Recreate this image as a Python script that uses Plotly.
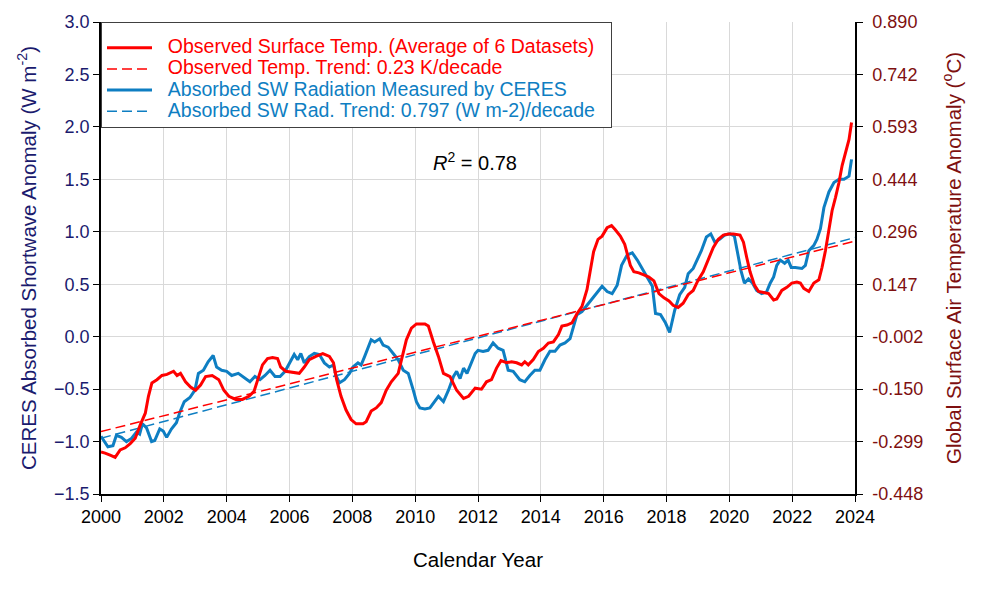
import numpy as np
import plotly.graph_objects as go

# ---------------- data ----------------
temp_years = [2000.0, 2000.13, 2000.29, 2000.45, 2000.61, 2000.77, 2000.93, 2001.09, 2001.25, 2001.41,
              2001.51, 2001.62, 2001.78, 2001.94, 2002.1, 2002.31, 2002.42, 2002.53, 2002.69, 2002.85,
              2003.01, 2003.17, 2003.33, 2003.54, 2003.75, 2003.91, 2004.07, 2004.29, 2004.5, 2004.71,
              2004.87, 2005.03, 2005.14, 2005.3, 2005.46, 2005.62, 2005.72, 2005.88, 2006.1, 2006.31,
              2006.47, 2006.63, 2006.84, 2007.06, 2007.27, 2007.4, 2007.5, 2007.64, 2007.8, 2007.96,
              2008.12, 2008.34, 2008.44, 2008.6, 2008.76, 2008.92, 2009.08, 2009.24, 2009.46, 2009.56,
              2009.72, 2009.88, 2010.04, 2010.31, 2010.42, 2010.58, 2010.74, 2010.9, 2011.11, 2011.32,
              2011.54, 2011.7, 2011.91, 2012.11, 2012.27, 2012.43, 2012.59, 2012.73, 2012.91, 2013.07,
              2013.23, 2013.39, 2013.49, 2013.6, 2013.76, 2013.92, 2014.08, 2014.24, 2014.4, 2014.56,
              2014.67, 2014.83, 2014.99, 2015.15, 2015.31, 2015.47, 2015.57, 2015.68, 2015.82, 2015.95,
              2016.11, 2016.25, 2016.37, 2016.53, 2016.67, 2016.77, 2016.85, 2016.96, 2017.12, 2017.28,
              2017.44, 2017.6, 2017.76, 2017.92, 2018.08, 2018.21, 2018.37, 2018.53, 2018.69, 2018.85,
              2019.01, 2019.17, 2019.33, 2019.49, 2019.65, 2019.81, 2019.97, 2020.13, 2020.34, 2020.45,
              2020.55, 2020.66, 2020.8, 2020.93, 2021.09, 2021.25, 2021.41, 2021.51, 2021.67, 2021.83,
              2021.99, 2022.15, 2022.26, 2022.37, 2022.53, 2022.69, 2022.85, 2022.95, 2023.06, 2023.17,
              2023.27, 2023.38, 2023.49, 2023.59, 2023.7, 2023.81, 2023.89]
temp_anom = [-0.329, -0.332, -0.338, -0.344, -0.323, -0.317, -0.305, -0.290, -0.252, -0.219,
             -0.171, -0.133, -0.124, -0.112, -0.109, -0.100, -0.112, -0.106, -0.130, -0.145,
             -0.154, -0.139, -0.115, -0.112, -0.124, -0.154, -0.171, -0.180, -0.180, -0.171,
             -0.157, -0.115, -0.082, -0.064, -0.061, -0.064, -0.088, -0.100, -0.103, -0.106,
             -0.088, -0.067, -0.058, -0.050, -0.058, -0.076, -0.124, -0.171, -0.210, -0.237,
             -0.249, -0.249, -0.243, -0.213, -0.204, -0.189, -0.154, -0.130, -0.106, -0.067,
             -0.011, 0.022, 0.034, 0.034, 0.028, -0.017, -0.058, -0.106, -0.115, -0.154,
             -0.177, -0.171, -0.148, -0.151, -0.130, -0.124, -0.091, -0.070, -0.076, -0.073,
             -0.076, -0.082, -0.073, -0.082, -0.067, -0.044, -0.035, -0.020, -0.017, 0.004,
             0.028, 0.031, 0.037, 0.063, 0.084, 0.132, 0.188, 0.239, 0.274, 0.283,
             0.307, 0.313, 0.301, 0.283, 0.260, 0.230, 0.200, 0.182, 0.179, 0.173,
             0.167, 0.156, 0.120, 0.108, 0.099, 0.087, 0.081, 0.093, 0.117, 0.129,
             0.159, 0.182, 0.218, 0.251, 0.274, 0.286, 0.289, 0.289, 0.286, 0.266,
             0.224, 0.182, 0.144, 0.126, 0.123, 0.120, 0.102, 0.105, 0.129, 0.138,
             0.150, 0.153, 0.150, 0.135, 0.126, 0.150, 0.159, 0.194, 0.242, 0.298,
             0.355, 0.393, 0.435, 0.483, 0.521, 0.557, 0.605]

sw_years = [2000.0, 2000.22, 2000.38, 2000.49, 2000.65, 2000.81, 2000.97, 2001.13, 2001.23, 2001.32,
            2001.45, 2001.61, 2001.71, 2001.87, 2001.98, 2002.09, 2002.24, 2002.4, 2002.51, 2002.65,
            2002.83, 2002.99, 2003.1, 2003.26, 2003.41, 2003.57, 2003.68, 2003.84, 2004.0, 2004.16,
            2004.37, 2004.59, 2004.74, 2004.9, 2005.06, 2005.22, 2005.38, 2005.54, 2005.7, 2005.86,
            2006.0, 2006.15, 2006.26, 2006.36, 2006.47, 2006.63, 2006.79, 2006.95, 2007.11, 2007.27,
            2007.4, 2007.48, 2007.59, 2007.75, 2007.91, 2008.02, 2008.18, 2008.28, 2008.39, 2008.5,
            2008.6, 2008.71, 2008.87, 2008.98, 2009.14, 2009.3, 2009.46, 2009.62, 2009.78, 2009.94,
            2010.04, 2010.15, 2010.31, 2010.47, 2010.63, 2010.74, 2010.9, 2011.06, 2011.22, 2011.32,
            2011.43, 2011.54, 2011.65, 2011.8, 2011.91, 2012.0, 2012.16, 2012.32, 2012.48, 2012.64,
            2012.8, 2012.96, 2013.12, 2013.33, 2013.49, 2013.65, 2013.81, 2013.97, 2014.13, 2014.29,
            2014.45, 2014.61, 2014.77, 2014.93, 2015.04, 2015.15, 2015.31, 2015.47, 2015.63, 2015.79,
            2015.95, 2016.11, 2016.27, 2016.43, 2016.57, 2016.75, 2016.91, 2017.07, 2017.23, 2017.39,
            2017.55, 2017.65, 2017.81, 2017.97, 2018.1, 2018.26, 2018.42, 2018.58, 2018.69, 2018.85,
            2018.95, 2019.11, 2019.27, 2019.41, 2019.54, 2019.7, 2019.86, 2020.02, 2020.16, 2020.27,
            2020.37, 2020.48, 2020.61, 2020.74, 2020.87, 2021.03, 2021.19, 2021.3, 2021.41, 2021.51,
            2021.62, 2021.76, 2021.87, 2021.97, 2022.1, 2022.31, 2022.42, 2022.53, 2022.69, 2022.79,
            2022.9, 2023.01, 2023.17, 2023.33, 2023.49, 2023.65, 2023.81, 2023.89]
sw_anom = [-0.95, -1.05, -1.04, -0.94, -0.96, -1.00, -0.97, -0.91, -0.93, -0.83,
           -0.87, -1.00, -0.99, -0.88, -0.90, -0.96, -0.88, -0.82, -0.72, -0.62,
           -0.58, -0.51, -0.35, -0.32, -0.24, -0.18, -0.29, -0.32, -0.33, -0.37,
           -0.35, -0.40, -0.43, -0.38, -0.41, -0.37, -0.32, -0.38, -0.38, -0.33,
           -0.25, -0.17, -0.22, -0.16, -0.25, -0.19, -0.16, -0.17, -0.25, -0.29,
           -0.27, -0.37, -0.44, -0.41, -0.35, -0.29, -0.25, -0.27, -0.19, -0.11,
           -0.03, -0.05, -0.02, -0.08, -0.10, -0.16, -0.22, -0.32, -0.35, -0.51,
           -0.62, -0.68, -0.69, -0.68, -0.62, -0.57, -0.62, -0.51, -0.38, -0.33,
           -0.40, -0.30, -0.35, -0.25, -0.16, -0.13, -0.14, -0.13, -0.06, -0.11,
           -0.13, -0.32, -0.33, -0.41, -0.43, -0.37, -0.32, -0.32, -0.22, -0.14,
           -0.14, -0.08, -0.06, -0.02, 0.10, 0.21, 0.24, 0.30, 0.35, 0.41,
           0.48, 0.43, 0.41, 0.49, 0.68, 0.78, 0.80, 0.73, 0.65, 0.56,
           0.48, 0.22, 0.21, 0.13, 0.04, 0.25, 0.40, 0.47, 0.60, 0.65,
           0.71, 0.82, 0.95, 0.98, 0.90, 0.93, 0.97, 0.98, 0.96, 0.79,
           0.63, 0.51, 0.55, 0.51, 0.44, 0.41, 0.43, 0.51, 0.57, 0.68,
           0.73, 0.70, 0.73, 0.66, 0.66, 0.65, 0.68, 0.82, 0.87, 0.93,
           1.03, 1.23, 1.38, 1.47, 1.50, 1.50, 1.53, 1.69]

trend_years = [2000, 2024]
temp_trend = [-0.271, 0.269]
sw_trend = [-0.968, 0.945]

y2_ticktext = ["-0.448", "-0.299", "-0.150", "-0.002", "0.147", "0.296", "0.444", "0.593", "0.742", "0.890"]
r_squared = "0.78"

legend_names = ["Observed Surface Temp. (Average of 6 Datasets)",
                "Observed Temp. Trend: 0.23 K/decade",
                "Absorbed SW Radiation Measured by CERES",
                "Absorbed SW Rad. Trend: 0.797 (W m-2)/decade"]

RED = "#FF0000"
BLUE = "#0E7EC2"
NAVY = "#1B1B6E"
DARKRED = "#7E1010"
FONT = "Liberation Sans, Arial, sans-serif"


def leg(txt, color):
    return ('<span style="font-size:19.5px;fill:%s">&nbsp;&nbsp;%s&nbsp;&nbsp;</span>' % (color, txt))


fig = go.Figure()
fig.add_trace(go.Scatter(x=temp_years, y=temp_anom, yaxis="y2", mode="lines",
                         line=dict(color=RED, width=3), name=leg(legend_names[0], RED)))
fig.add_trace(go.Scatter(x=trend_years, y=temp_trend, yaxis="y2", mode="lines",
                         line=dict(color=RED, width=1.5, dash="10px,5px"),
                         name=leg(legend_names[1], RED)))
fig.add_trace(go.Scatter(x=sw_years, y=sw_anom, mode="lines",
                         line=dict(color=BLUE, width=3), name=leg(legend_names[2], BLUE)))
fig.add_trace(go.Scatter(x=trend_years, y=sw_trend, mode="lines",
                         line=dict(color=BLUE, width=1.5, dash="10px,5px"),
                         name=leg(legend_names[3], BLUE)))

y2_lo, y2_hi = -0.448, 0.890
fig.update_layout(
    width=986, height=596,
    margin=dict(l=93, r=139, t=14, b=110),
    paper_bgcolor="white", plot_bgcolor="white",
    font=dict(family=FONT, size=18, color="black"),
    showlegend=True,
    legend=dict(x=0, y=1, xanchor="left", yanchor="top", bgcolor="white",
                bordercolor="#404040", borderwidth=1, font=dict(size=14, family=FONT),
                tracegroupgap=0, itemwidth=45,
                title=dict(text="&nbsp;", font=dict(size=7, family=FONT))),
    xaxis=dict(range=[2000, 2024], dtick=2, tick0=2000, showgrid=True, gridcolor="#D9D9D9",
               gridwidth=1, showline=True, linecolor="black", linewidth=1.5, ticks="outside",
               ticklen=6, tickcolor="black", zeroline=False, automargin=False,
               tickfont=dict(size=18, color="black"),
               title=dict(text="Calendar Year", font=dict(size=20.5, color="black"), standoff=26)),
    yaxis=dict(range=[-1.5, 3.0], dtick=0.5, tickformat=".1f", showgrid=True, gridcolor="#D9D9D9",
               gridwidth=1, showline=True, linecolor="black", linewidth=1.5, ticks="outside",
               ticklen=6, tickcolor="black", zeroline=False, automargin=False,
               tickfont=dict(size=18, color=NAVY),
               title=dict(text="CERES Absorbed Shortwave Anomaly (W m<sup>-2</sup>)",
                          font=dict(size=20.5, color=NAVY), standoff=12)),
    yaxis2=dict(overlaying="y", side="right", range=[y2_lo, y2_hi],
                tickmode="array", tickvals=list(np.linspace(y2_lo, y2_hi, len(y2_ticktext))),
                ticktext=y2_ticktext, showgrid=False, showline=True, linecolor="black",
                linewidth=1.5, ticks="outside", ticklen=6, tickcolor="black", zeroline=False,
                automargin=False, ticklabelstandoff=6, tickfont=dict(size=18, color=DARKRED),
                title=dict(text="Global Surface Air Temperature Anomaly (<sup>o</sup>C)",
                           font=dict(size=20.5, color=DARKRED), standoff=24)),
    annotations=[dict(x=2011.9, y=1.67, xref="x", yref="y", showarrow=False,
                      text="<i>R</i><sup>2</sup> = " + r_squared,
                      font=dict(size=20, color="black", family=FONT))],
)

fig.write_html("out.html")
